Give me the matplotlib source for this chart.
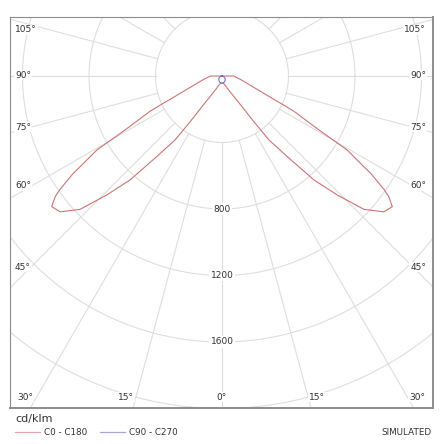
import numpy as np
import matplotlib
matplotlib.use('Agg')
import matplotlib.pyplot as plt

# photometric data (cd/klm)
gamma = [0, 10, 15, 20, 24, 29, 33, 34.8, 36.3, 39, 41.5, 44.1, 46.8, 50, 52.5,
         54.1, 55, 56.8, 57.4, 59.4, 60.9, 63.9, 64.9, 66.3, 68.8, 74, 79.3, 85, 90, 95, 180]
c0_c180 = [44, 45, 50, 62, 83, 127, 214, 330, 478, 624, 835, 997, 1172, 1271, 1291,
           1239, 1190, 1069, 1013, 875, 668, 482, 400, 317, 235, 154, 114, 85, 70, 0, 0]
gamma_c90 = [0, 15, 30, 45, 60, 75, 90, 180]
c90_c270 = [44, 41, 35, 27, 19, 10, 0, 0]

rings = [400, 800, 1200, 1600, 2000, 2400]
ring_labels = ['800', '1200', '1600']
spoke_step = 15

# pixel geometry of the reference
W = H = 444
cx, cy = 222, 76
k = 400 / 66.5  # cd/klm per pixel
fl, ft, fr, fb = 10, 17, 433, 408

red = '#cf7474'
blue = '#6f6fc8'
grid_c = '#dedede'

fig = plt.figure(figsize=(W / 100, H / 100), dpi=100)
ax = fig.add_axes([fl / W, (H - fb) / H, (fr - fl) / W, (fb - ft) / H])
ax.set_xlim((fl - cx) * k, (fr - cx) * k)
ax.set_ylim((cy - fb) * k, (cy - ft) * k)
ax.set_xticks([])
ax.set_yticks([])
for s in ax.spines.values():
    s.set_color('#8c8c8c')
    s.set_linewidth(0.8)
ax.spines['right'].set_linewidth(1.4)
ax.spines['bottom'].set_linewidth(1.4)

# grid
t = np.linspace(0, 2 * np.pi, 400)
for r in rings:
    ax.plot(r * np.cos(t), r * np.sin(t), color=grid_c, lw=0.8, zorder=1)
for a in range(0, 360, spoke_step):
    ar = np.radians(a)
    ax.plot([400 * np.sin(ar), 3000 * np.sin(ar)], [-400 * np.cos(ar), -3000 * np.cos(ar)],
            color=grid_c, lw=0.8, zorder=1)


def polar_curve(g, vals):
    g = np.radians(np.array(g, dtype=float))
    v = np.array(vals, dtype=float)
    # C180 side (left), then C0 side (right)
    xs = np.concatenate([-(v * np.sin(g))[::-1], v * np.sin(g)])
    ys = np.concatenate([-(v * np.cos(g))[::-1], -v * np.cos(g)])
    return xs, ys


x1, y1 = polar_curve(gamma, c0_c180)
ax.plot(x1, y1, color=red, lw=0.8, zorder=3)
x2, y2 = polar_curve(gamma_c90, c90_c270)
ax.plot(x2, y2, color=blue, lw=0.8, zorder=3)

# ring labels on the 0 deg axis
for lab in ring_labels:
    ax.text(0, -float(lab), lab, ha='center', va='center', fontsize=6.5, color='#333333',
            bbox=dict(facecolor='white', edgecolor='none', pad=0.8), zorder=4)

# angle labels (pixel positions)
side_labels = [('105°', 30), ('90°', 75), ('75°', 127), ('60°', 186), ('45°', 267)]
for lab, py in side_labels:
    fig.text(15 / W, 1 - py / H, lab, ha='left', va='center', fontsize=6.5, color='#333333',
             bbox=dict(facecolor='white', edgecolor='none', pad=0.6), zorder=5)
    fig.text(426 / W, 1 - py / H, lab, ha='right', va='center', fontsize=6.5, color='#333333',
             bbox=dict(facecolor='white', edgecolor='none', pad=0.6), zorder=5)
bottom_labels = [('30°', 25), ('15°', 126), ('0°', 221), ('15°', 317), ('30°', 417)]
for lab, px in bottom_labels:
    fig.text(px / W, 1 - 397 / H, lab, ha='center', va='center', fontsize=6.5, color='#333333',
             bbox=dict(facecolor='white', edgecolor='none', pad=0.6), zorder=5)

# legend area
fig.text(15 / W, 1 - 419 / H, 'cd/klm', ha='left', va='center', fontsize=8, color='#333333')
fig.add_artist(plt.Line2D([15 / W, 40 / W], [1 - 432 / H] * 2, color='#e0a8a8', lw=0.9))
fig.text(44 / W, 1 - 432 / H, 'C0 - C180', ha='left', va='center', fontsize=6.3, color='#333333')
fig.add_artist(plt.Line2D([100 / W, 125 / W], [1 - 432 / H] * 2, color='#a8a8d8', lw=0.9))
fig.text(129 / W, 1 - 432 / H, 'C90 - C270', ha='left', va='center', fontsize=6.3, color='#333333')
fig.text(431 / W, 1 - 432 / H, 'SIMULATED', ha='right', va='center', fontsize=6.3, color='#333333')

fig.savefig('out.png', dpi=100)
